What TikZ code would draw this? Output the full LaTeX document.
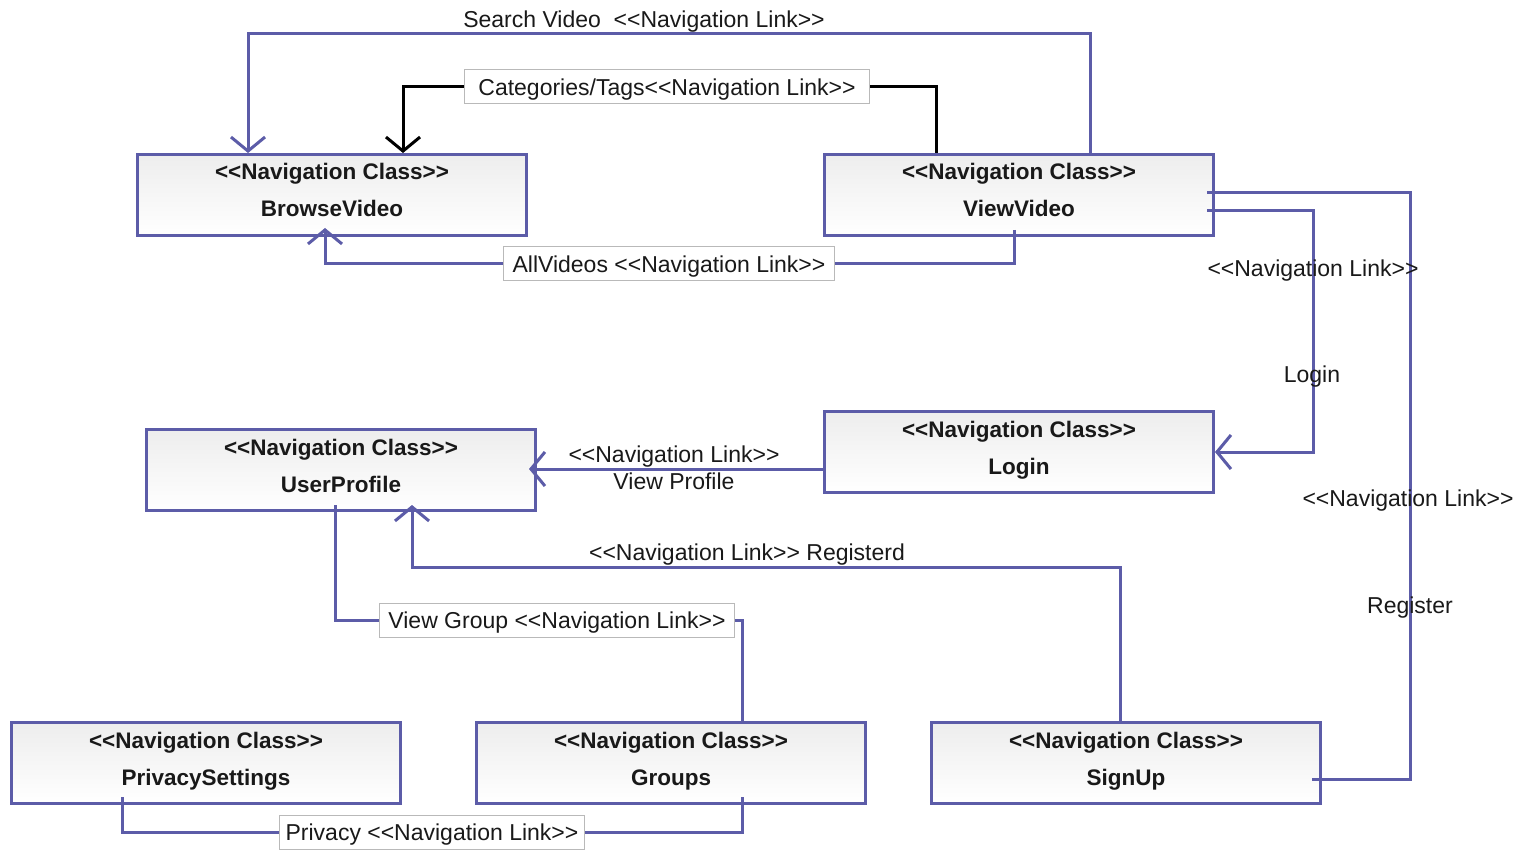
\documentclass[tikz,border=0pt]{standalone}
\usepackage{fontspec}
\setmainfont{Liberation Sans}[Ligatures=TeXOff]
\usetikzlibrary{arrows.meta}
\definecolor{navline}{RGB}{92,92,168}
\definecolor{navtext}{RGB}{25,25,25}
\definecolor{tagframe}{RGB}{185,185,185}

\tikzset{
  navbox/.style={draw=navline, line width=3pt, top color=black!7, bottom color=white,
    minimum width=389pt, minimum height=81pt, inner sep=0pt},
  navtitle/.style={font=\fontsize{22.5}{24}\selectfont\bfseries, text=navtext, inner sep=0pt,
    text height=17pt, text depth=1pt},
  link/.style={draw=navline, line width=3pt},
  catlink/.style={draw=black, line width=3pt},
  navarrow/.style={-{Straight Barb[length=14pt,width=34pt]}},
  linklabel/.style={font=\fontsize{23}{25}\selectfont, text=navtext, inner sep=0pt,
    text height=18pt, text depth=1pt},
  taglabel/.style={linklabel, draw=tagframe, line width=1pt, fill=white,
    minimum height=34pt},
}

% one navigation class: box plus stereotype and class name
\newcommand\navclass[4]{%
  \node[navbox] (#1) at (#2,#3) {};
  \node[navtitle] (#1-st) at ([yshift=23pt]#1.center) {<<Navigation Class>>};
  \node[navtitle] (#1-nm) at ([yshift=-14pt]#1.center) {#4};
}

\begin{document}
\begin{tikzpicture}[x=1pt,y=-1pt]
\fill[white] (0,0) rectangle (1527,850);
\useasboundingbox (0,0) rectangle (1527,850);

% classes
\navclass{bv}{332}{195}{BrowseVideo}
\navclass{vv}{1019}{195}{ViewVideo}
\navclass{lg}{1019}{452}{Login}
\navclass{up}{341}{470}{UserProfile}
\navclass{ps}{206}{763}{PrivacySettings}
\navclass{gr}{671}{763}{Groups}
\navclass{su}{1126}{763}{SignUp}

% helper coordinates
\coordinate (upr) at ([xshift=188pt]up.center);

% Search Video
\draw[link,navarrow] ([xshift=71pt]vv.north) |- (248,34) -- ([xshift=-84pt]bv.north);
% Categories/Tags
\draw[catlink,navarrow] ([xshift=-83pt]vv.north) |- (403,87) -- ([xshift=71pt]bv.north);
% AllVideos
\draw[link,navarrow] ([xshift=-5pt,yshift=-35pt]vv.center) |- (325,264) -- ([xshift=-7pt,yshift=-33pt]bv.center);
% Login
\draw[link,navarrow] ([xshift=188pt,yshift=-16pt]vv.center) -| ([xshift=98pt]lg.east) -- (lg.east);
% Register
\draw[link] ([xshift=188pt,yshift=2pt]vv.center) -| ([xshift=284pt,yshift=-16pt]su.center) -- ([xshift=186pt,yshift=-16pt]su.center);
% View Profile
\draw[link,navarrow] ([yshift=-17pt]lg.west) coordinate (vp) -- (upr |- vp);
% Registerd
\draw[link,navarrow] ([xshift=-6pt]su.north) |- (412,567) -- ([xshift=71pt,yshift=-35pt]up.center);
% View Group
\draw[link] ([xshift=-6pt,yshift=-35pt]up.center) |- (742,620) -- ([xshift=71pt]gr.north);
% Privacy
\draw[link] ([xshift=-84pt,yshift=-34pt]ps.center) |- (742,832) -- ([xshift=71pt,yshift=-34pt]gr.center);

% link labels
\node[linklabel] (l-search) at (644,19) {Search Video\ \ <<Navigation Link>>};
\node[taglabel, minimum width=405pt] (l-cat) at (667,87) {Categories/Tags<<Navigation Link>>};
\node[taglabel, minimum width=331pt] (l-all) at (669,264) {AllVideos <<Navigation Link>>};
\node[linklabel] (l-login1) at (1313,268) {<<Navigation Link>>};
\node[linklabel] (l-login2) at (1312,374) {Login};
\node[linklabel] (l-reg1) at (1408,498) {<<Navigation Link>>};
\node[linklabel] (l-reg2) at (1410,605) {Register};
\node[linklabel] (l-vp1) at (674,454) {<<Navigation Link>>};
\node[linklabel] (l-vp2) at (674,481) {View Profile};
\node[linklabel] (l-regd) at (747,552) {<<Navigation Link>> Registerd};
\node[taglabel, minimum width=355pt] (l-grp) at (557,620) {View Group <<Navigation Link>>};
\node[taglabel, minimum width=305pt] (l-priv) at (432,832) {Privacy <<Navigation Link>>};
\end{tikzpicture}
\end{document}
